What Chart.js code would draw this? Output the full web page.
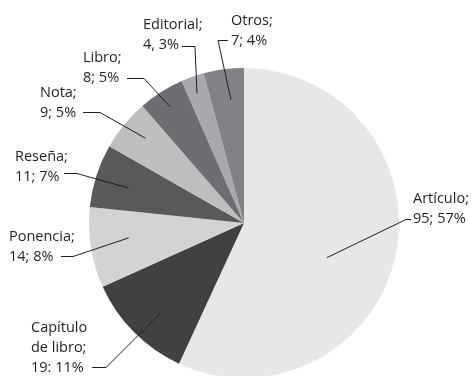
<!DOCTYPE html>
<html>
<head>
<meta charset="utf-8">
<script src="https://cdn.jsdelivr.net/npm/chart.js@4/dist/chart.umd.min.js"></script>
<style>
    html, body { margin: 0; padding: 0; background: #ffffff; overflow: hidden; }
    #wrap { position: relative; width: 476px; height: 380px; }
</style>
</head>
<body>
<div id="wrap"><canvas id="chartCanvas"></canvas></div>
<script>
const categories = ['Artículo', 'Capítulo de libro', 'Ponencia', 'Reseña', 'Nota', 'Libro', 'Editorial', 'Otros'];
const counts = [95, 19, 14, 11, 9, 8, 4, 7];
const percents = [57, 11, 8, 7, 5, 5, 3, 4];
const sliceColors = ['#e6e7e8', '#414042', '#d1d3d4', '#58595b', '#bcbec0', '#6d6e71', '#a7a9ac', '#808285'];

// label text as printed, one entry per line
const labelLines = [
    ['Artículo;', counts[0] + '; ' + percents[0] + '%'],
    ['Capítulo', 'de libro;', counts[1] + ': ' + percents[1] + '%'],
    ['Ponencia;', counts[2] + '; ' + percents[2] + '%'],
    ['Reseña;', counts[3] + '; ' + percents[3] + '%'],
    ['Nota;', counts[4] + '; ' + percents[4] + '%'],
    ['Libro;', counts[5] + '; ' + percents[5] + '%'],
    ['Editorial;', counts[6] + ', ' + percents[6] + '%'],
    ['Otros;', counts[7] + '; ' + percents[7] + '%']
];

// where each label sits and how its leader line bends
// t = position along the slice, r = fraction of the radius
const labelLayout = [
    { x: 413, y: 199, from: [411, 219], elbow: [406, 219], t: 0.55, r: 0.58 },
    { x: 31, y: 328, from: [92, 367], elbow: [106, 367], t: 0.44, r: 0.79 },
    { x: 9, y: 237, from: [61, 256], elbow: [73, 256], t: 0.56, r: 0.75 },
    { x: 15, y: 157, from: [64, 173], elbow: [77, 173], t: 0.46, r: 0.78 },
    { x: 40, y: 93, from: [83, 112], elbow: [100, 112], t: 0.57, r: 0.84 },
    { x: 83, y: 58, from: [127, 78], elbow: [144, 78], t: 0.49, r: 0.89 },
    { x: 143, y: 25, from: [182, 46], elbow: [195, 46], t: 0.44, r: 0.89 },
    { x: 231, y: 21, from: [228, 40], elbow: [218, 40], t: 0.6, r: 0.8 }
];

const calloutPlugin = {
    id: 'callouts',
    afterDatasetsDraw(chart) {
        const ctx = chart.ctx;
        const arcs = chart.getDatasetMeta(0).data;
        ctx.save();
        ctx.strokeStyle = '#231f20';
        ctx.lineWidth = 1;
        ctx.fillStyle = '#231f20';
        ctx.font = '14.5px "Open Sans"';
        ctx.textBaseline = 'middle';
        ctx.textAlign = 'left';
        arcs.forEach((arc, i) => {
            const lay = labelLayout[i];
            const p = arc.getProps(['x', 'y', 'startAngle', 'endAngle', 'outerRadius'], true);
            const a = p.startAngle + lay.t * (p.endAngle - p.startAngle);
            const ax = p.x + Math.cos(a) * p.outerRadius * lay.r;
            const ay = p.y + Math.sin(a) * p.outerRadius * lay.r;

            ctx.beginPath();
            ctx.moveTo(lay.from[0], lay.from[1] + 0.5);
            ctx.lineTo(lay.elbow[0], lay.elbow[1] + 0.5);
            ctx.lineTo(ax, ay);
            ctx.stroke();

            labelLines[i].forEach((line, j) => {
                ctx.fillText(line, lay.x, lay.y + j * 20);
            });
        });
        ctx.restore();
    }
};

function drawChart() {
    const chartCanvas = document.getElementById('chartCanvas');
    const ctx = chartCanvas.getContext('2d');

    const data = {
        labels: categories,
        datasets: [{
            data: counts,
            backgroundColor: sliceColors,
            borderWidth: 0
        }]
    };

    const config = {
        type: 'pie',
        data: data,
        options: {
            responsive: true,
            maintainAspectRatio: false,
            animation: false,
            layout: {
                padding: { top: 68, left: 89, right: 77, bottom: 2 }
            },
            plugins: {
                legend: { display: false },
                tooltip: { enabled: false }
            }
        },
        plugins: [calloutPlugin]
    };

    window.myChart = new Chart(ctx, config);
}

drawChart();
</script>
</body>
</html>
